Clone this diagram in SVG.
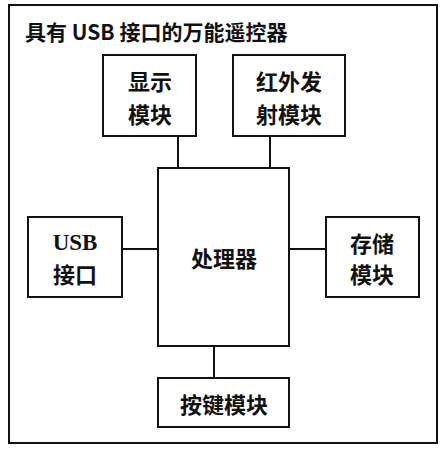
<svg xmlns="http://www.w3.org/2000/svg" width="448" height="450" viewBox="0 0 448 450">
<style>
rect{fill:#fff;stroke:#111;stroke-width:2}
line{stroke:#111;stroke-width:2}
text{font-family:"Noto Sans CJK SC","Noto Sans CJK JP",sans-serif;font-size:22px;font-weight:700;fill:#111;text-anchor:middle;dominant-baseline:central}
.t{text-anchor:start;font-size:21px}
.lat{font-family:"Liberation Serif",serif;font-size:23px}
</style>
<rect x="0" y="0" width="448" height="450" style="stroke:none"/>
<g id="frame"><rect x="9" y="5" width="428" height="438"/><text class="t" x="25" y="31">具有 USB 接口的万能遥控器</text></g>
<g id="connectors">
<line x1="178" y1="136" x2="178" y2="168"/>
<line x1="270" y1="136" x2="270" y2="168"/>
<line x1="122" y1="249" x2="158" y2="249"/>
<line x1="289" y1="249" x2="326" y2="249"/>
<line x1="214" y1="346" x2="214" y2="378"/>
</g>
<g id="display"><rect x="103" y="55" width="93" height="81"/><text x="150" y="80">显示</text><text x="150" y="113">模块</text></g>
<g id="ir"><rect x="233" y="55" width="112" height="81"/><text x="289" y="80">红外发</text><text x="289" y="113">射模块</text></g>
<g id="cpu"><rect x="158" y="168" width="131" height="178"/><text x="224" y="257">处理器</text></g>
<g id="usb"><rect x="28" y="217" width="94" height="80"/><text class="lat" x="75" y="242">USB</text><text x="75" y="273">接口</text></g>
<g id="storage"><rect x="326" y="217" width="93" height="80"/><text x="372" y="242">存储</text><text x="372" y="273">模块</text></g>
<g id="keys"><rect x="158" y="378" width="131" height="49"/><text x="224" y="403">按键模块</text></g>
</svg>
